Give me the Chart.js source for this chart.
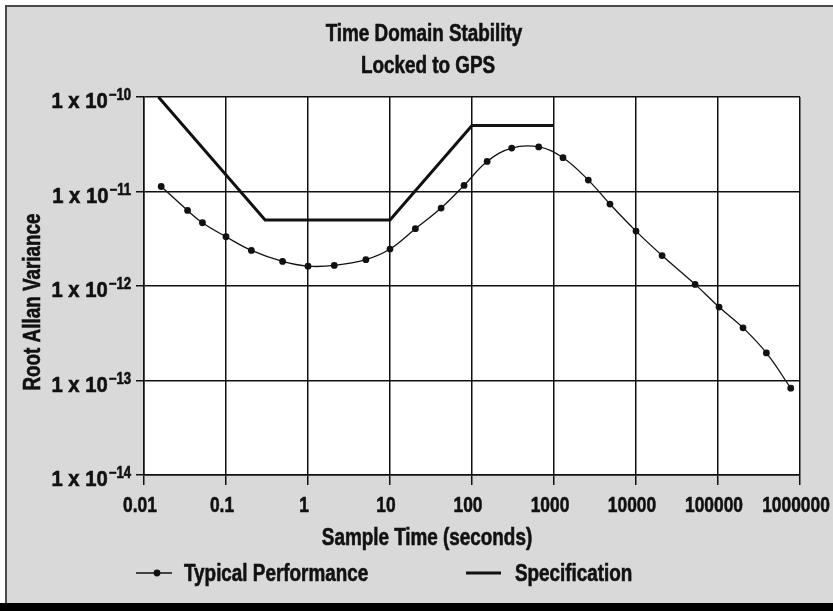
<!DOCTYPE html>
<html>
<head>
<meta charset="utf-8">
<script src="https://cdn.jsdelivr.net/npm/chart.js@4/dist/chart.umd.min.js"></script>
<style>
    body { margin: 0; background: #ffffff; }
    #wrap { width: 833px; height: 611px; position: relative; }
</style>
</head>
<body>
<div id="wrap"><canvas id="stabilityChart" width="833" height="611"></canvas></div>
<script>
// Time domain stability data
const perfTimes = [0.0162, 0.034, 0.0516, 0.1, 0.204, 0.49, 1, 2.09, 5.08, 10, 20.4, 42, 80,
    153, 305, 651, 1287, 2620, 4810, 10000, 20800, 52600, 103000, 202000, 389000, 771000];
const perfValues = [1.13e-11, 6.3e-12, 4.67e-12, 3.32e-12, 2.38e-12, 1.82e-12, 1.62e-12, 1.65e-12,
    1.9e-12, 2.46e-12, 4.04e-12, 6.68e-12, 1.16e-11, 2.08e-11, 2.88e-11, 2.96e-11, 2.28e-11,
    1.32e-11, 7.36e-12, 3.81e-12, 2.1e-12, 1.04e-12, 5.98e-13, 3.61e-13, 1.96e-13, 8.3e-14];

const specTimes = [0.015, 0.3, 10, 100, 1000];
const specValues = [1e-10, 5e-12, 5e-12, 5e-11, 5e-11];

const xTicks = [0.01, 0.1, 1, 10, 100, 1000, 10000, 100000, 1000000];
const xTickLabels = ['0.01', '0.1', '1', '10', '100', '1000', '10000', '100000', '1000000'];
const yTicks = [1e-14, 1e-13, 1e-12, 1e-11, 1e-10];
const yTickExponents = ['\u221214', '\u221213', '\u221212', '\u221211', '\u221210'];

const FONT = '"Liberation Sans", Arial, sans-serif';
const NARROW = 0.82;

const perfPoints = perfTimes.map((t, i) => ({ x: t, y: perfValues[i] }));
const specPoints = specTimes.map((t, i) => ({ x: t, y: specValues[i] }));

// condensed heavy text: Liberation Sans bold squeezed horizontally
function narrowText(ctx, text, x, y, size, align, squeeze) {
    const sx = squeeze || NARROW;
    ctx.save();
    ctx.font = 'bold ' + size + 'px ' + FONT;
    ctx.textAlign = align;
    ctx.translate(x, y);
    ctx.scale(sx, 1);
    ctx.fillText(text, 0, 0);
    ctx.lineWidth = 0.6;
    ctx.strokeStyle = ctx.fillStyle;
    ctx.strokeText(text, 0, 0);
    ctx.restore();
}

function narrowWidth(ctx, text, size, squeeze) {
    ctx.save();
    ctx.font = 'bold ' + size + 'px ' + FONT;
    const w = ctx.measureText(text).width * (squeeze || NARROW);
    ctx.restore();
    return w;
}

// Background frame, plot area fill and all the text
const decorPlugin = {
    id: 'decor',
    beforeDraw(chart) {
        const ctx = chart.ctx;
        const area = chart.chartArea;
        ctx.save();
        ctx.fillStyle = '#ffffff';
        ctx.fillRect(0, 0, chart.width, chart.height);
        ctx.fillStyle = '#d9d9d9';
        ctx.fillRect(5, 5, chart.width - 5, 598);
        ctx.strokeStyle = '#4a4a4a';
        ctx.lineWidth = 2;
        ctx.beginPath();
        ctx.moveTo(6, 603);
        ctx.lineTo(6, 6);
        ctx.lineTo(chart.width, 6);
        ctx.stroke();
        ctx.fillStyle = '#000000';
        ctx.fillRect(0, 603, chart.width, 8);
        ctx.fillStyle = '#ffffff';
        ctx.fillRect(area.left, area.top, area.right - area.left, area.bottom - area.top);
        ctx.restore();
    },
    afterDraw(chart) {
        const ctx = chart.ctx;
        const xs = chart.scales.x;
        const ys = chart.scales.y;
        ctx.save();
        ctx.fillStyle = '#111111';
        ctx.textBaseline = 'alphabetic';

        // titles
        narrowText(ctx, 'Time Domain Stability', 424, 41, 23, 'center');
        narrowText(ctx, 'Locked to GPS', 428, 73, 23, 'center');

        // x tick labels
        xTicks.forEach((v, i) => {
            narrowText(ctx, xTickLabels[i], xs.getPixelForValue(v) - 4, 512, 22, 'center', 0.79);
        });

        // x axis title
        narrowText(ctx, 'Sample Time (seconds)', 427, 545, 23, 'center');

        // y tick labels with superscript exponent
        yTicks.forEach((v, i) => {
            const py = ys.getPixelForValue(v);
            const expW = narrowWidth(ctx, yTickExponents[i], 16);
            narrowText(ctx, yTickExponents[i], 131 - expW, py + 3, 16, 'left');
            narrowText(ctx, '1 x 10', 131 - expW - 1, py + 11, 22, 'right', 0.92);
        });

        // y axis title
        ctx.save();
        ctx.translate(40, 302);
        ctx.rotate(-Math.PI / 2);
        narrowText(ctx, 'Root Allan Variance', 0, 0, 23, 'center');
        ctx.restore();

        // legend
        ctx.strokeStyle = '#111111';
        ctx.lineWidth = 1.3;
        ctx.beginPath();
        ctx.moveTo(136, 573);
        ctx.lineTo(172, 573);
        ctx.stroke();
        ctx.beginPath();
        ctx.arc(157, 573, 3.4, 0, Math.PI * 2);
        ctx.fill();
        ctx.lineWidth = 3;
        ctx.beginPath();
        ctx.moveTo(466, 573);
        ctx.lineTo(501, 573);
        ctx.stroke();
        narrowText(ctx, 'Typical Performance', 184, 581, 23, 'left');
        narrowText(ctx, 'Specification', 515, 581, 23, 'left');
        ctx.restore();
    }
};

const ctx = document.getElementById('stabilityChart').getContext('2d');
new Chart(ctx, {
    type: 'line',
    data: {
        datasets: [
            {
                label: 'Typical Performance',
                data: perfPoints,
                borderColor: '#111111',
                backgroundColor: '#111111',
                borderWidth: 1.3,
                pointRadius: 3.4,
                pointBorderWidth: 0,
                tension: 0.4
            },
            {
                label: 'Specification',
                data: specPoints,
                borderColor: '#111111',
                borderWidth: 3,
                pointRadius: 0,
                tension: 0
            }
        ]
    },
    options: {
        responsive: false,
        animation: false,
        events: [],
        layout: { padding: { left: 136, right: 33, top: 97, bottom: 126 } },
        plugins: {
            legend: { display: false },
            title: { display: false },
            tooltip: { enabled: false }
        },
        scales: {
            x: {
                type: 'logarithmic',
                min: 0.01,
                max: 1000000,
                afterBuildTicks: (scale) => { scale.ticks = xTicks.map(v => ({ value: v, major: true })); },
                ticks: { display: false },
                grid: { color: '#111111', lineWidth: 1.5, tickLength: 10, drawTicks: true },
                border: { color: '#111111', width: 1.5 }
            },
            y: {
                type: 'logarithmic',
                min: 1e-14,
                max: 1e-10,
                afterBuildTicks: (scale) => { scale.ticks = yTicks.map(v => ({ value: v, major: true })); },
                ticks: { display: false },
                grid: { color: '#111111', lineWidth: 1.5, tickLength: 8, drawTicks: true },
                border: { color: '#111111', width: 1.5 }
            }
        }
    },
    plugins: [decorPlugin]
});
</script>
</body>
</html>
